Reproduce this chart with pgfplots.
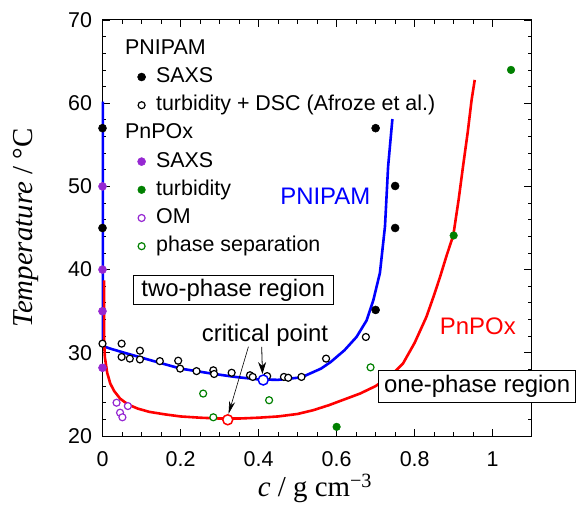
\documentclass[border=0pt]{standalone}
\usepackage{pgfplots}
\pgfplotsset{compat=1.18}
\usetikzlibrary{arrows.meta}
\usepackage{fontspec}
\setmainfont{Liberation Sans}
\newfontfamily\seriffont{Liberation Serif}
\definecolor{pblue}{RGB}{0,0,255}
\definecolor{pred}{RGB}{255,0,0}
\definecolor{ppurple}{RGB}{150,40,210}
\definecolor{pgreen}{RGB}{0,128,0}
\newcommand{\legfont}{\fontsize{21.5}{24}\selectfont}
\newcommand{\annfont}{\fontsize{24}{28}\selectfont}
\tikzset{lmimg/.style={}}
\pgfplotsset{lmimg/.style={legend image code/.code={\draw[##1] plot coordinates {(0bp,0bp)};}}}
\begin{document}
\begin{tikzpicture}
\begin{axis}[
  name=ax,
  scale only axis, width=429.2bp, height=416bp,
  xmin=0, xmax=1.1, ymin=20, ymax=70,
  xtick={0,0.2,0.4,0.6,0.8,1}, minor x tick num=3,
  ytick={20,30,40,50,60,70}, minor y tick num=4,
  tick align=inside,
  major tick length=7.5bp, minor tick length=4bp,
  axis line style={line width=1bp},
  every tick/.style={black,line width=0.8bp},
  /pgf/number format/assume math mode=true,
  tick label style={font=\legfont},
  yticklabel style={xshift=-7bp},
  xticklabel style={yshift=-12bp},
  clip=false,
  xlabel={\seriffont\fontsize{29}{32}\selectfont\itshape c\upshape\ / g cm\textsuperscript{\char"2212 3}},
  xlabel style={at={(axis description cs:0.495,-0.1466)}, anchor=base},
  ylabel={\seriffont\fontsize{29}{32}\selectfont\itshape Temperature\upshape\ / °C},
  ylabel style={at={(axis description cs:-0.178,0.5)}, anchor=center},
  legend style={at={(axis description cs:0.0818,0.9548)}, anchor=north west,
    draw=none, fill=none, inner sep=0pt, outer sep=0pt,
    row sep=8.2bp, column sep=10.5bp, font=\legfont,
    nodes={inner sep=0pt, text height=15.5bp, text depth=4.5bp}},
  legend cell align=left,
]
% PNIPAM binodal (fit line)
\addplot[pblue, line width=2.6bp, forget plot] coordinates {
(0.001,60.2)(0.001,31.0)(0.005,30.75)(0.02,30.5)(0.06,29.95)(0.12,29.15)(0.2,28.1)
(0.28,27.5)(0.34,27.1)(0.4,26.8)(0.45,26.75)(0.51,27.05)(0.56,28.1)(0.585,28.9)
(0.62,30.3)(0.651,31.9)(0.677,33.9)(0.694,36.3)(0.711,39.6)(0.724,45.2)(0.732,52.4)(0.743,58.1)};
% PnPOx binodal (fit line)
\addplot[pred, line width=2.6bp, forget plot] coordinates {
(0.004,38.7)(0.004,31.5)(0.006,29.5)(0.012,27.6)(0.02,26.3)(0.03,25.4)(0.045,24.5)
(0.065,23.8)(0.09,23.3)(0.12,22.9)(0.16,22.6)(0.2,22.35)(0.25,22.2)(0.3,22.1)(0.35,22.1)
(0.4,22.2)(0.45,22.35)(0.5,22.65)(0.54,23.1)(0.58,23.7)(0.62,24.4)(0.66,25.1)(0.7,26.0)
(0.74,27.3)(0.77,28.7)(0.8,31.2)(0.83,34.3)(0.848,36.7)(0.865,39.1)(0.882,41.7)
(0.899,44.1)(0.913,48.5)(0.924,52.4)(0.936,56.5)(0.946,60.4)(0.954,62.8)};

\addlegendimage{empty legend}\addlegendentry{\hspace*{-31bp}PNIPAM}
\addplot[only marks, lmimg,
  mark=*, mark size=4bp, black, mark options={line width=0.5bp}] coordinates {
(0,57.0)(0,45.0)(0.70,57.0)(0.75,50.05)(0.75,45.0)(0.70,35.15)};
\addlegendentry{SAXS}
\addplot[only marks, lmimg,
  mark=*, mark size=3.5bp, black, mark options={fill=white, draw=black, line width=1.2bp}] coordinates {
(0,31.1)(0.049,31.1)(0.049,29.5)(0.070,29.3)(0.096,30.25)(0.096,29.2)(0.147,29.0)
(0.194,29.05)(0.199,28.1)(0.241,27.8)(0.284,27.9)(0.286,27.45)(0.331,27.6)(0.378,27.3)
(0.385,27.1)(0.422,27.2)(0.465,27.1)(0.476,27.0)(0.510,27.1)(0.573,29.3)(0.675,31.9)};
\addlegendentry{turbidity + DSC (Afroze et al.)}

\addlegendimage{empty legend}\addlegendentry{\hspace*{-31bp}PnPOx}
\addplot[only marks, lmimg,
  mark=*, mark size=4bp, ppurple, mark options={line width=0.5bp}] coordinates {
(0,50)(0,40)(0,35)(0,28.2)};
\addlegendentry{SAXS}
\addplot[only marks, lmimg,
  mark=*, mark size=3.8bp, pgreen, mark options={line width=0.5bp}] coordinates {
(0.60,21.1)(0.90,44.1)(1.047,64.0)};
\addlegendentry{turbidity}
\addplot[only marks, lmimg,
  mark=*, mark size=3.5bp, ppurple, mark options={fill=white, draw=ppurple, line width=1.2bp}] coordinates {
(0.036,24.0)(0.065,23.6)(0.045,22.8)(0.051,22.25)};
\addlegendentry{OM}
\addplot[only marks, lmimg,
  mark=*, mark size=3.5bp, pgreen, mark options={fill=white, draw=pgreen, line width=1.2bp}] coordinates {
(0.258,25.1)(0.284,22.25)(0.427,24.3)(0.687,28.25)};
\addlegendentry{phase separation}

% critical points
\addplot[forget plot, only marks, mark=*, mark size=5bp,
  mark options={fill=white, draw=pblue, line width=1.5bp}] coordinates {(0.412,26.73)};
\addplot[forget plot, only marks, mark=*, mark size=5bp,
  mark options={fill=white, draw=pred, line width=1.5bp}] coordinates {(0.321,21.95)};

% annotations
\node[font=\annfont, text=pblue] at (axis cs:0.571,48.76) {PNIPAM};
\node[font=\annfont, text=pred] at (axis cs:0.962,33.14) {PnPOx};
\node[draw, fill=white, line width=0.8bp, inner xsep=8.5bp, inner ysep=3.7bp, font=\annfont]
  at (axis cs:0.335,37.55) {two-phase region};
\node[draw, fill=white, line width=0.8bp, inner xsep=5.3bp, inner ysep=5bp, font=\annfont]
  at (axis cs:0.960,25.95) {one-phase region};
\node[font=\annfont, anchor=base] at (axis cs:0.4165,31.4) {critical point};
\draw[-{Stealth[length=13bp,width=6bp]}, line width=0.6bp]
  (axis cs:0.374,30.73) -- (axis cs:0.323,22.65);
\draw[-{Stealth[length=12bp,width=8bp]}, line width=0.8bp]
  (axis cs:0.408,30.7) -- (axis cs:0.410,27.45);
\end{axis}
\pgfresetboundingbox
\path[use as bounding box] ([xshift=-102.5bp,yshift=-70bp]ax.south west) rectangle ([xshift=49.3bp,yshift=20bp]ax.north east);
\end{tikzpicture}
\end{document}
